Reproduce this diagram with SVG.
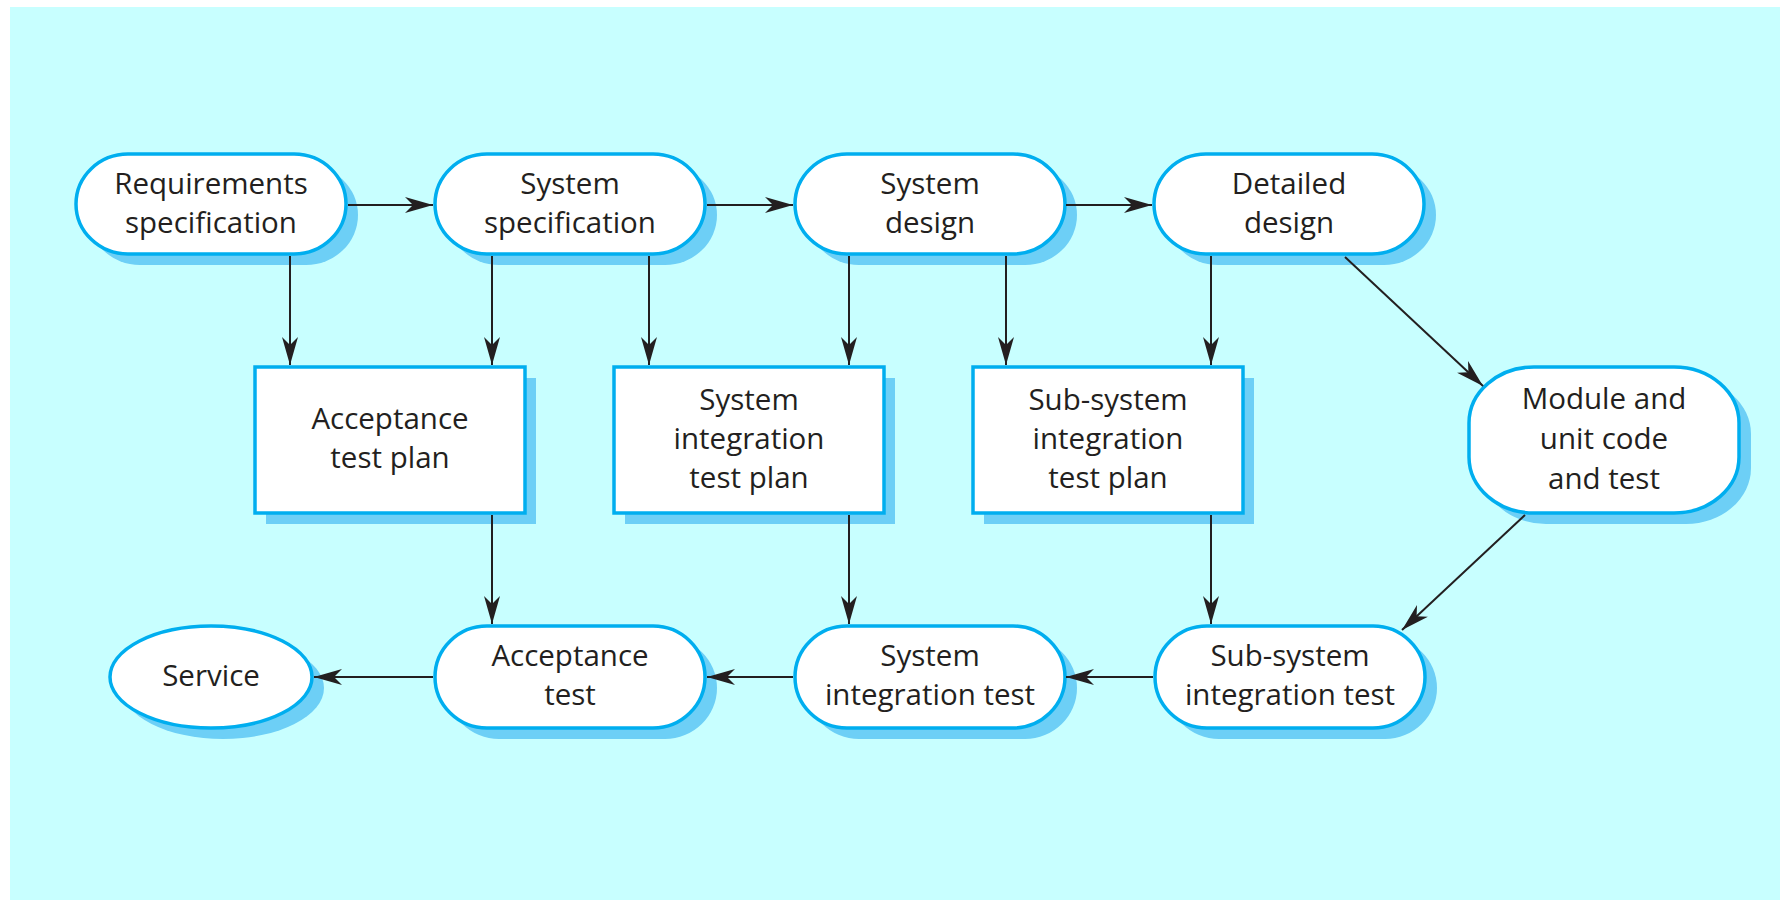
<svg xmlns="http://www.w3.org/2000/svg" width="1780" height="900" viewBox="0 0 1780 900">
<defs>
<style>
.bg{fill:#c8ffff}
.sh{fill:#6dcff6}
.nd{fill:#ffffff;stroke:#00aeef;stroke-width:3.5}
.t{font-family:"Open Sans","Noto Sans","Liberation Sans",sans-serif;font-size:29.5px;fill:#231f20;text-anchor:middle}
.c{stroke:#231f20;stroke-width:2;fill:none}
</style>
<marker id="ah" markerUnits="userSpaceOnUse" viewBox="-29 -9 30 18" refX="0" refY="0" markerWidth="30" markerHeight="18" orient="auto">
<path d="M0,0 L-28,-8 L-20,0 L-28,8 Z" fill="#231f20"/>
</marker>
</defs>
<rect class="bg" x="10" y="7" width="1770" height="893"/>

<g id="requirements-specification">
<rect class="sh" x="88" y="165" width="270" height="100" rx="52" ry="50"/>
<rect class="nd" x="76" y="154" width="270" height="100" rx="52" ry="50"/>
<text class="t" x="211" y="194">Requirements</text>
<text class="t" x="211" y="233">specification</text>
</g>
<g id="system-specification">
<rect class="sh" x="447" y="165" width="270" height="100" rx="52" ry="50"/>
<rect class="nd" x="435" y="154" width="270" height="100" rx="52" ry="50"/>
<text class="t" x="570" y="194">System</text>
<text class="t" x="570" y="233">specification</text>
</g>
<g id="system-design">
<rect class="sh" x="807" y="165" width="270" height="100" rx="52" ry="50"/>
<rect class="nd" x="795" y="154" width="270" height="100" rx="52" ry="50"/>
<text class="t" x="930" y="194">System</text>
<text class="t" x="930" y="233">design</text>
</g>
<g id="detailed-design">
<rect class="sh" x="1166" y="165" width="270" height="100" rx="52" ry="50"/>
<rect class="nd" x="1154" y="154" width="270" height="100" rx="52" ry="50"/>
<text class="t" x="1289" y="194">Detailed</text>
<text class="t" x="1289" y="233">design</text>
</g>

<g id="acceptance-test-plan">
<rect class="sh" x="266" y="378" width="270" height="146"/>
<rect class="nd" x="255" y="367" width="270" height="146"/>
<text class="t" x="390" y="429">Acceptance</text>
<text class="t" x="390" y="468">test plan</text>
</g>
<g id="system-integration-test-plan">
<rect class="sh" x="625" y="378" width="270" height="146"/>
<rect class="nd" x="614" y="367" width="270" height="146"/>
<text class="t" x="749" y="410">System</text>
<text class="t" x="749" y="449">integration</text>
<text class="t" x="749" y="488">test plan</text>
</g>
<g id="sub-system-integration-test-plan">
<rect class="sh" x="984" y="378" width="270" height="146"/>
<rect class="nd" x="973" y="367" width="270" height="146"/>
<text class="t" x="1108" y="410">Sub-system</text>
<text class="t" x="1108" y="449">integration</text>
<text class="t" x="1108" y="488">test plan</text>
</g>
<g id="module-and-unit-code-and-test">
<rect class="sh" x="1481" y="378" width="270" height="146" rx="65" ry="56"/>
<rect class="nd" x="1469" y="367" width="270" height="146" rx="65" ry="56"/>
<text class="t" x="1604" y="409">Module and</text>
<text class="t" x="1604" y="449">unit code</text>
<text class="t" x="1604" y="489">and test</text>
</g>

<g id="service">
<ellipse class="sh" cx="223" cy="688" rx="101" ry="51"/>
<ellipse class="nd" cx="211" cy="677" rx="101" ry="51"/>
<text class="t" x="211" y="686">Service</text>
</g>
<g id="acceptance-test">
<rect class="sh" x="447" y="637" width="270" height="102" rx="52" ry="51"/>
<rect class="nd" x="435" y="626" width="270" height="102" rx="52" ry="51"/>
<text class="t" x="570" y="666">Acceptance</text>
<text class="t" x="570" y="705">test</text>
</g>
<g id="system-integration-test">
<rect class="sh" x="807" y="637" width="270" height="102" rx="52" ry="51"/>
<rect class="nd" x="795" y="626" width="270" height="102" rx="52" ry="51"/>
<text class="t" x="930" y="666">System</text>
<text class="t" x="930" y="705">integration test</text>
</g>
<g id="sub-system-integration-test">
<rect class="sh" x="1167" y="637" width="270" height="102" rx="52" ry="51"/>
<rect class="nd" x="1155" y="626" width="270" height="102" rx="52" ry="51"/>
<text class="t" x="1290" y="666">Sub-system</text>
<text class="t" x="1290" y="705">integration test</text>
</g>

<g id="connectors">
<line class="c" x1="348" y1="205" x2="433" y2="205" marker-end="url(#ah)"/>
<line class="c" x1="707" y1="205" x2="793" y2="205" marker-end="url(#ah)"/>
<line class="c" x1="1066" y1="205" x2="1152" y2="205" marker-end="url(#ah)"/>
<line class="c" x1="290" y1="256" x2="290" y2="365" marker-end="url(#ah)"/>
<line class="c" x1="492" y1="256" x2="492" y2="365" marker-end="url(#ah)"/>
<line class="c" x1="649" y1="256" x2="649" y2="365" marker-end="url(#ah)"/>
<line class="c" x1="849" y1="256" x2="849" y2="365" marker-end="url(#ah)"/>
<line class="c" x1="1006" y1="256" x2="1006" y2="365" marker-end="url(#ah)"/>
<line class="c" x1="1211" y1="256" x2="1211" y2="365" marker-end="url(#ah)"/>
<line class="c" x1="1345" y1="257" x2="1483" y2="386" marker-end="url(#ah)"/>
<line class="c" x1="492" y1="515" x2="492" y2="624" marker-end="url(#ah)"/>
<line class="c" x1="849" y1="515" x2="849" y2="624" marker-end="url(#ah)"/>
<line class="c" x1="1211" y1="515" x2="1211" y2="624" marker-end="url(#ah)"/>
<line class="c" x1="1525" y1="515" x2="1402" y2="630" marker-end="url(#ah)"/>
<line class="c" x1="1153" y1="677" x2="1066" y2="677" marker-end="url(#ah)"/>
<line class="c" x1="793" y1="677" x2="707" y2="677" marker-end="url(#ah)"/>
<line class="c" x1="433" y1="677" x2="314" y2="677" marker-end="url(#ah)"/>
</g>
</svg>
